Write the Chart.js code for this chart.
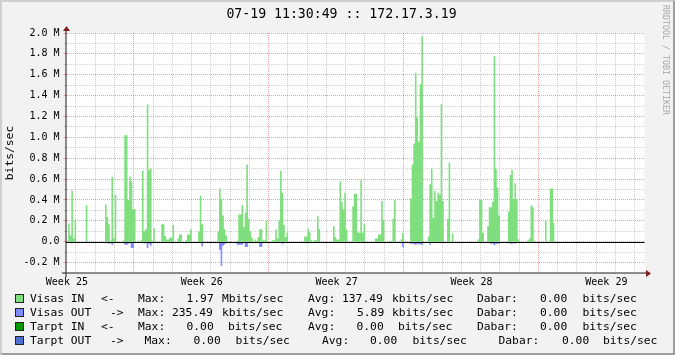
<!DOCTYPE html>
<html lang="en">
<head>
<meta charset="UTF-8">
<title>Visas traffic - 172.17.3.19</title>
<script src="https://cdn.jsdelivr.net/npm/chart.js"></script>
<style>
    body {
        margin: 0;
        background: #f2f2f2;
    }
    .wrap {
        position: relative;
        width: 675px;
        height: 355px;
        overflow: hidden;
        font-family: 'DejaVu Sans Mono', monospace;
    }
    canvas {
        position: absolute;
        left: 0;
        top: 0;
    }
    .title {
        position: absolute;
        left: 4px;
        top: 6px;
        width: 675px;
        text-align: center;
        font-size: 13.2px;
        line-height: 16px;
        color: #000;
        white-space: pre;
    }
    .mark {
        position: absolute;
        left: 671px;
        top: 5px;
        font-size: 8.3px;
        line-height: 10px;
        color: #a8a8a8;
        transform: rotate(90deg);
        transform-origin: 0 0;
        white-space: pre;
    }
    .legend span {
        position: absolute;
        font-size: 11.3px;
        line-height: 14px;
        color: #000;
        white-space: pre;
    }
    .legend span.box {
        width: 7px;
        height: 7px;
        border: 1px solid #222;
    }
</style>
</head>
<body>
<div class="wrap">
    <canvas id="trafficChart" width="675" height="355"></canvas>
    <div class="title">07-19 11:30:49 :: 172.17.3.19</div>
    <div class="mark">RRDTOOL / TOBI OETIKER</div>
    <div class="legend" id="legend"></div>
</div>

<script>
// 2 hour averages in Mbit/s, one array per week (Week 25 starts at the left edge)
const binHours = 2;

const week25In = [
    0, 0.175, 0.06, 0.49, 0.03, 0.21, 0, 0, 0, 0, 0, 0,
    0.35, 0, 0, 0, 0, 0, 0, 0, 0, 0, 0, 0,
    0.357, 0.236, 0.166, 0.01, 0.62, 0.03, 0.45, 0, 0, 0, 0, 0.015,
    1.02, 1.02, 0.40, 0.625, 0.578, 0.31, 0.31, 0, 0.01, 0, 0.013, 0.683,
    0.10, 0.12, 1.315, 0.69, 0.70, 0.01, 0.13, 0, 0, 0, 0, 0.166,
    0.166, 0.054, 0.02, 0.02, 0.04, 0.04, 0.16, 0, 0, 0.03, 0.07, 0.07,
    0, 0, 0.015, 0.07, 0.07, 0.12, 0, 0, 0, 0, 0.10, 0.44
];
const week26In = [
    0.166, 0, 0, 0, 0, 0, 0, 0, 0, 0, 0.10, 0.51,
    0.415, 0.25, 0.12, 0.06, 0, 0, 0, 0, 0, 0, 0.01, 0.26,
    0.26, 0.35, 0.14, 0.28, 0.74, 0.22, 0.10, 0.04, 0, 0.02, 0.01, 0.045,
    0.12, 0.12, 0.013, 0.013, 0.2, 0, 0, 0, 0.013, 0.013, 0.12, 0.03,
    0.2, 0.68, 0.47, 0.16, 0.045, 0.09, 0, 0, 0, 0, 0, 0,
    0, 0, 0, 0, 0.05, 0.05, 0.125, 0.09, 0.013, 0, 0.013, 0.013,
    0.245, 0.12, 0, 0, 0, 0, 0, 0, 0, 0, 0.15, 0.045
];
const week27In = [
    0.02, 0.02, 0.58, 0.38, 0.31, 0.47, 0.12, 0, 0, 0, 0.34, 0.46,
    0.46, 0.09, 0.086, 0.59, 0.086, 0.166, 0, 0, 0, 0, 0, 0,
    0.03, 0.03, 0.07, 0.07, 0.39, 0.2, 0, 0, 0, 0.01, 0, 0.22,
    0.40, 0, 0, 0, 0.02, 0.086, 0, 0, 0, 0, 0.415, 0.74,
    0.94, 1.62, 1.19, 0.96, 1.51, 1.97, 0, 0, 0, 0.05, 0.55, 0.70,
    0.23, 0.485, 0.39, 0.47, 0.45, 1.32, 0.39, 0, 0, 0.22, 0.76, 0,
    0.08, 0, 0, 0, 0, 0, 0, 0, 0, 0, 0, 0
];
const week28In = [
    0, 0, 0, 0, 0.02, 0.40, 0.40, 0.086, 0, 0, 0.15, 0.33,
    0.33, 0.38, 1.78, 0.70, 0.52, 0.25, 0, 0, 0, 0, 0, 0.29,
    0.64, 0.69, 0.41, 0.56, 0.41, 0.02, 0, 0, 0, 0, 0, 0.015,
    0.03, 0.35, 0.33, 0.01, 0, 0, 0, 0, 0, 0, 0.2, 0,
    0, 0.51, 0.51, 0.18
];

// outgoing traffic, drawn below the zero line
const week25Out = [
    0, 0, 0, 0.013, 0, 0, 0, 0, 0, 0, 0, 0,
    0, 0, 0, 0, 0, 0, 0, 0, 0, 0, 0, 0,
    0, 0, 0.02, 0, 0.03, 0, 0, 0, 0, 0, 0, 0,
    0.03, 0.03, 0.02, 0, 0.06, 0.06, 0, 0, 0, 0, 0, 0.015,
    0.015, 0.015, 0.06, 0.02, 0.04, 0, 0, 0, 0, 0, 0, 0,
    0, 0, 0, 0, 0, 0, 0, 0, 0, 0, 0, 0,
    0, 0, 0, 0, 0, 0, 0, 0, 0, 0, 0, 0.013
];
const week26Out = [
    0.045, 0, 0, 0, 0, 0, 0, 0, 0, 0, 0, 0.08,
    0.233, 0.04, 0.025, 0, 0, 0, 0, 0, 0, 0, 0.03, 0.03,
    0.03, 0.03, 0.01, 0.05, 0.05, 0, 0.01, 0, 0, 0, 0, 0,
    0.05, 0.05, 0, 0, 0, 0, 0, 0, 0, 0, 0.015, 0,
    0.013, 0, 0.025, 0, 0, 0, 0, 0, 0, 0, 0, 0,
    0, 0, 0, 0, 0.01, 0.01, 0, 0, 0, 0, 0, 0,
    0.013, 0.013, 0, 0, 0, 0, 0, 0, 0, 0, 0, 0
];
const week27Out = [
    0, 0, 0, 0, 0, 0, 0, 0, 0, 0, 0, 0,
    0, 0, 0, 0, 0, 0, 0, 0, 0, 0, 0, 0,
    0, 0, 0, 0, 0, 0, 0, 0, 0, 0, 0, 0,
    0, 0, 0, 0, 0, 0.05, 0, 0, 0, 0, 0.02, 0.02,
    0.025, 0.03, 0.02, 0.025, 0.025, 0.03, 0, 0, 0, 0, 0.03, 0,
    0, 0, 0, 0, 0, 0, 0, 0, 0, 0, 0.01, 0,
    0, 0, 0, 0, 0, 0, 0, 0, 0, 0, 0, 0
];
const week28Out = [
    0, 0, 0, 0, 0, 0.01, 0, 0, 0, 0, 0, 0,
    0.02, 0.02, 0.035, 0.02, 0.02, 0.02, 0, 0, 0, 0, 0, 0,
    0.02, 0.02, 0, 0.02, 0, 0, 0, 0, 0, 0, 0, 0,
    0, 0, 0, 0, 0, 0, 0, 0, 0, 0, 0, 0,
    0, 0, 0, 0
];

// axis ticks
const yTicks = [-0.2, -0.1, 0, 0.1, 0.2, 0.3, 0.4, 0.5, 0.6, 0.7, 0.8, 0.9, 1.0,
                1.1, 1.2, 1.3, 1.4, 1.5, 1.6, 1.7, 1.8, 1.9, 2.0];
const weekLabels = ['Week 25', 'Week 26', 'Week 27', 'Week 28', 'Week 29'];
const weekLabelHours = [0.5, 168.5, 336.5, 504.5, 672.5];

// legend text
const seriesNames = ['Visas IN', 'Visas OUT', 'Tarpt IN', 'Tarpt OUT'];
const seriesArrows = ['<-', '->', '<-', '->'];
const maxValues = ['1.97', '235.49', '0.00', '0.00'];
const maxUnits = ['Mbits/sec', 'kbits/sec', 'bits/sec', 'bits/sec'];
const avgValues = ['137.49', '5.89', '0.00', '0.00'];
const avgUnits = ['kbits/sec', 'kbits/sec', 'bits/sec', 'bits/sec'];
const lastValues = ['0.00', '0.00', '0.00', '0.00'];
const lastUnits = ['bits/sec', 'bits/sec', 'bits/sec', 'bits/sec'];

// ---- styles / layout ----
const mono = "'DejaVu Sans Mono', monospace";
const inColor = '#7fdf7f';
const outColor = '#7f8cff';
const swatchColors = [inColor, outColor, '#009a00', '#4c6fd0'];
const gridGray = 'rgba(143,143,143,0.42)';
const gridRed = 'rgba(222,79,79,0.55)';
const legendRowY = [299, 313, 327, 341];
const legendColX = [
    [30, 101, 138, 186.5, 222, 308, 342, 392, 477, 540, 582.5],
    [30, 110, 138, 172, 222, 308, 357, 392, 477, 540, 582.5],
    [30, 101, 138, 186.5, 228, 308, 356.5, 398, 477, 540, 582.5],
    [30, 110, 144.5, 193.5, 235.5, 322, 370, 412.5, 498.5, 562, 603]
];

const inMbits = week25In.concat(week26In, week27In, week28In);
const outMbits = week25Out.concat(week26Out, week27Out, week28Out);

function stepPoints(values, sign) {
    const pts = values.map((v, i) => ({ x: i * binHours, y: sign * v }));
    pts.push({ x: values.length * binHours, y: 0 });
    return pts;
}

// day lines (the 4th of each week is drawn red)
const xGridTicks = [];
for (let d = 0; d < 30; d++) {
    xGridTicks.push({ value: 11.8 + d * 24, kind: d % 7 === 3 ? 'major' : 'minor' });
}
weekLabelHours.forEach((h, i) => xGridTicks.push({ value: h, kind: 'label', text: weekLabels[i] }));
xGridTicks.sort((a, b) => a.value - b.value);

const isMajorY = v => Math.round(v * 10) % 2 === 0;
const fmtY = v => {
    const r = Math.round(v * 10) / 10;
    return r === 0 ? '0.0' : r.toFixed(1) + ' M';
};

const rrdFrame = {
    id: 'rrdFrame',
    beforeDraw(chart) {
        const { ctx, chartArea: a, width: w, height: h } = chart;
        ctx.save();
        ctx.fillStyle = '#f2f2f2';
        ctx.fillRect(0, 0, w, h);
        ctx.fillStyle = '#cfcfcf';
        ctx.beginPath();
        ctx.moveTo(0, h); ctx.lineTo(2, h - 2); ctx.lineTo(2, 2);
        ctx.lineTo(w - 2, 2); ctx.lineTo(w, 0); ctx.lineTo(0, 0);
        ctx.closePath(); ctx.fill();
        ctx.fillStyle = '#9e9e9e';
        ctx.beginPath();
        ctx.moveTo(2, h - 2); ctx.lineTo(w - 2, h - 2); ctx.lineTo(w - 2, 2);
        ctx.lineTo(w, 0); ctx.lineTo(w, h); ctx.lineTo(0, h);
        ctx.closePath(); ctx.fill();
        ctx.fillStyle = '#ffffff';
        ctx.fillRect(a.left, a.top, a.right - a.left, a.bottom - a.top);
        ctx.restore();
    },
    afterDatasetsDraw(chart) {
        const { ctx, chartArea: a } = chart;
        const y0 = Math.round(chart.scales.y.getPixelForValue(0)) + 0.5;
        ctx.save();
        ctx.strokeStyle = '#000';
        ctx.lineWidth = 1;
        ctx.beginPath();
        ctx.moveTo(a.left - 0.5, y0);
        ctx.lineTo(a.right, y0);
        ctx.stroke();
        ctx.restore();
    },
    afterDraw(chart) {
        const { ctx, chartArea: a } = chart;
        const xo = 66, yo = a.bottom, xe = 644;
        ctx.save();
        ctx.strokeStyle = '#1f1f1f';
        ctx.lineWidth = 1;
        ctx.beginPath();
        ctx.moveTo(xo - 4, yo); ctx.lineTo(xe + 4, yo);
        ctx.moveTo(xo, yo + 4); ctx.lineTo(xo, a.top - 4);
        ctx.stroke();
        ctx.fillStyle = '#801f1f';
        ctx.beginPath();
        ctx.moveTo(xe + 2, yo - 3); ctx.lineTo(xe + 2, yo + 4); ctx.lineTo(xe + 7, yo + 0.5);
        ctx.closePath(); ctx.fill();
        ctx.beginPath();
        ctx.moveTo(xo - 3, a.top - 2); ctx.lineTo(xo + 4, a.top - 2); ctx.lineTo(xo + 0.5, a.top - 7);
        ctx.closePath(); ctx.fill();
        ctx.restore();
    }
};

const trafficCtx = document.getElementById('trafficChart').getContext('2d');
const trafficChart = new Chart(trafficCtx, {
    type: 'line',
    data: {
        datasets: [{
            label: seriesNames[0],
            data: stepPoints(inMbits, 1),
            stepped: true,
            fill: 'origin',
            backgroundColor: inColor,
            borderColor: 'rgba(0,0,0,0)',
            borderWidth: 0,
            pointRadius: 0
        }, {
            label: seriesNames[1],
            data: stepPoints(outMbits, -1),
            stepped: true,
            fill: 'origin',
            backgroundColor: outColor,
            borderColor: 'rgba(0,0,0,0)',
            borderWidth: 0,
            pointRadius: 0
        }]
    },
    options: {
        responsive: false,
        animation: false,
        devicePixelRatio: 1,
        events: [],
        layout: { padding: { top: 33, right: 30.5, bottom: 0, left: 0 } },
        plugins: {
            legend: { display: false },
            tooltip: { enabled: false },
            title: { display: false }
        },
        scales: {
            x: {
                type: 'linear',
                min: 0,
                max: 720,
                afterFit: s => { s.height = 82; },
                afterBuildTicks: s => { s.ticks = xGridTicks.map(t => Object.assign({}, t)); },
                ticks: {
                    autoSkip: false,
                    maxRotation: 0,
                    padding: 3,
                    color: '#000',
                    font: { family: mono, size: 10 },
                    callback: (v, i, ticks) => ticks[i].kind === 'label' ? ticks[i].text : ''
                },
                grid: {
                    drawTicks: false,
                    lineWidth: 1,
                    color: c => {
                        const k = c.tick && c.tick.kind;
                        if (k === 'major') return gridRed;
                        if (k === 'minor') return gridGray;
                        return 'rgba(0,0,0,0)';
                    }
                },
                border: { display: false, dash: [1, 1] }
            },
            y: {
                type: 'linear',
                min: -0.3,
                max: 2.0,
                afterFit: s => { s.width = 66.5; },
                afterBuildTicks: s => { s.ticks = yTicks.map(v => ({ value: v })); },
                ticks: {
                    autoSkip: false,
                    padding: 4,
                    color: '#000',
                    font: { family: mono, size: 10 },
                    callback: v => isMajorY(v) ? fmtY(v) : ''
                },
                grid: {
                    lineWidth: 1,
                    tickLength: 3,
                    color: c => isMajorY(c.tick.value) ? gridRed : gridGray,
                    tickColor: c => isMajorY(c.tick.value) ? gridRed : gridGray
                },
                border: { display: false, dash: [1, 1] },
                title: {
                    display: true,
                    text: 'bits/sec',
                    color: '#000',
                    font: { family: mono, size: 11.3 },
                    padding: { top: 3, bottom: 0 }
                }
            }
        }
    },
    plugins: [rrdFrame]
});

// rrdtool style legend under the graph
const legendEl = document.getElementById('legend');
function addText(text, x, y) {
    const s = document.createElement('span');
    s.textContent = text;
    s.style.left = x + 'px';
    s.style.top = (y - 7) + 'px';
    legendEl.appendChild(s);
}
seriesNames.forEach((name, r) => {
    const y = legendRowY[r];
    const cols = legendColX[r];
    const box = document.createElement('span');
    box.className = 'box';
    box.style.left = '15px';
    box.style.top = (y - 5) + 'px';
    box.style.background = swatchColors[r];
    legendEl.appendChild(box);
    const parts = [name, seriesArrows[r], 'Max:', maxValues[r], maxUnits[r],
                   'Avg:', avgValues[r], avgUnits[r], 'Dabar:', lastValues[r], lastUnits[r]];
    parts.forEach((p, i) => addText(p, cols[i], y));
});
</script>
</body>
</html>
